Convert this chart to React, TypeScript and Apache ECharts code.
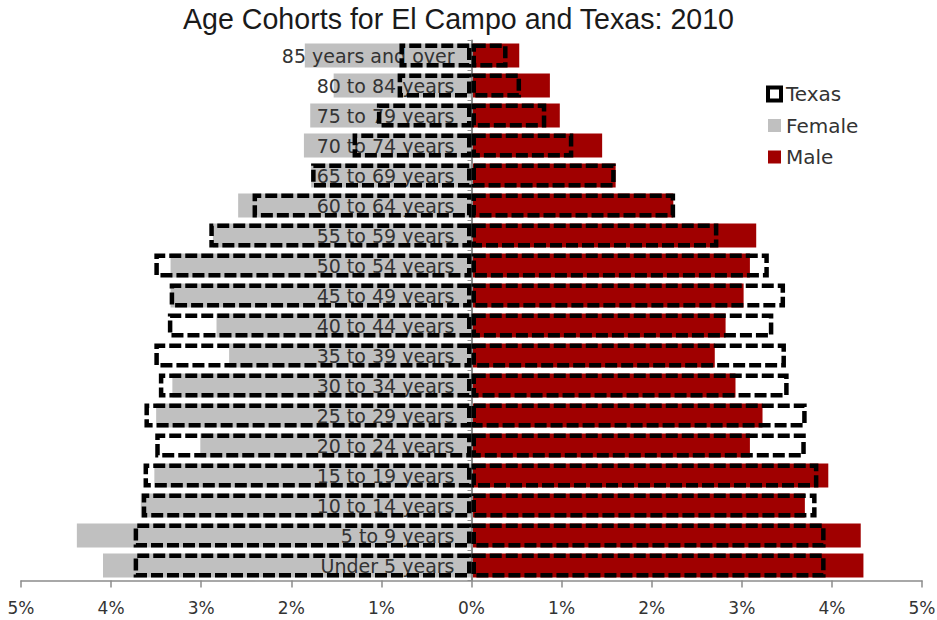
import React, { useEffect, useRef } from "react";
import * as echarts from "echarts";

const categories = [
  "Under 5 years", "5 to 9 years", "10 to 14 years", "15 to 19 years",
  "20 to 24 years", "25 to 29 years", "30 to 34 years", "35 to 39 years",
  "40 to 44 years", "45 to 49 years", "50 to 54 years", "55 to 59 years",
  "60 to 64 years", "65 to 69 years", "70 to 74 years", "75 to 79 years",
  "80 to 84 years", "85 years and over",
];
const elCampoFemale = [4.09, 4.38, 3.67, 3.52, 3.01, 3.5, 3.32, 2.69, 2.83, 3.34, 3.34, 2.87, 2.59, 1.78, 1.86, 1.79, 1.53, 1.85];
const elCampoMale = [4.35, 4.32, 3.7, 3.96, 3.09, 3.23, 2.93, 2.7, 2.82, 3.02, 3.09, 3.16, 2.24, 1.6, 1.45, 0.98, 0.87, 0.53];
const texasFemale = [3.75, 3.75, 3.66, 3.64, 3.51, 3.63, 3.47, 3.52, 3.37, 3.35, 3.52, 2.91, 2.43, 1.78, 1.32, 1.05, 0.82, 0.8];
const texasMale = [3.93, 3.93, 3.83, 3.85, 3.71, 3.72, 3.52, 3.49, 3.35, 3.48, 3.3, 2.74, 2.26, 1.6, 1.13, 0.83, 0.55, 0.4];
const xTicks = [-5, -4, -3, -2, -1, 0, 1, 2, 3, 4, 5];

const FONT = "DejaVu Sans";
const GRID_LEFT = 21;
const GRID_RIGHT = 15;
const PLOT_W = 937 - GRID_LEFT - GRID_RIGHT;

export default function App() {
  const ref = useRef<HTMLDivElement>(null);
  useEffect(() => {
    if (!ref.current) return;
    const chart = echarts.init(ref.current, null, { renderer: "svg" });
    const texasStyle = {
      color: "rgba(0,0,0,0)",
      borderColor: "#000",
      borderWidth: 4.5,
      borderType: [12, 4],
    };
    chart.setOption({
      animation: false,
      title: {
        text: "Age Cohorts for El Campo and Texas: 2010",
        left: 178,
        top: -1,
        textStyle: { fontFamily: "Liberation Sans", fontSize: 28.6, fontWeight: "normal", color: "#1a1a1a" },
      },
      legend: {
        orient: "vertical",
        left: 761,
        top: 79,
        itemWidth: 13,
        itemHeight: 13,
        itemGap: 11.5,
        textStyle: { fontFamily: FONT, fontSize: 20, color: "#333" },
        data: [
          { name: "Texas", icon: "rect", itemStyle: { color: "#fff", borderColor: "#000", borderWidth: 4, borderType: "solid" } },
          { name: "Female", icon: "rect" },
          { name: "Male", icon: "rect" },
        ],
      },
      grid: { left: GRID_LEFT, right: GRID_RIGHT, top: 40.5, bottom: 39.5, containLabel: false, outerBoundsMode: "none" },
      xAxis: {
        type: "value",
        min: -5,
        max: 5,
        interval: 1,
        splitLine: { show: false },
        axisLine: { show: true, onZero: false, lineStyle: { color: "#8c8c8c", width: 1.5 } },
        axisTick: { show: true, length: 7, lineStyle: { color: "#8c8c8c", width: 1.5 } },
        axisLabel: {
          margin: 19,
          fontFamily: FONT,
          fontSize: 17,
          color: "#333",
          formatter: (v: number) => (xTicks.includes(v) ? Math.abs(v) + "%" : ""),
        },
      },
      yAxis: {
        type: "category",
        data: categories,
        z: 2.5,
        offset: -PLOT_W / 2,
        axisLine: { show: true, onZero: false, lineStyle: { color: "#8c8c8c", width: 2 } },
        axisTick: { show: true, length: 4, lineStyle: { color: "#8c8c8c" } },
        axisLabel: { margin: 17, fontFamily: FONT, fontSize: 19, color: "#333", padding: [0, 0, 2, 0] },
      },
      series: [
        {
          name: "Female",
          type: "bar",
          data: elCampoFemale.map((v) => -v),
          itemStyle: { color: "#c0c0c0" },
          barCategoryGap: "20%",
          barGap: "-100%",
          z: 1,
        },
        {
          name: "Male",
          type: "bar",
          data: elCampoMale,
          itemStyle: { color: "#a00000" },
          barCategoryGap: "20%",
          barGap: "-100%",
          z: 1,
        },
        {
          name: "Texas",
          type: "bar",
          data: texasFemale.map((v) => -v),
          itemStyle: texasStyle,
          barCategoryGap: "20%",
          barGap: "-100%",
          z: 4,
        },
        {
          name: "Texas",
          type: "bar",
          data: texasMale,
          itemStyle: texasStyle,
          barCategoryGap: "20%",
          barGap: "-100%",
          z: 4,
        },
      ],
    });
    return () => chart.dispose();
  }, []);
  return <div ref={ref} style={{ width: 937, height: 620, position: "absolute", left: 0, top: 0 }} />;
}
